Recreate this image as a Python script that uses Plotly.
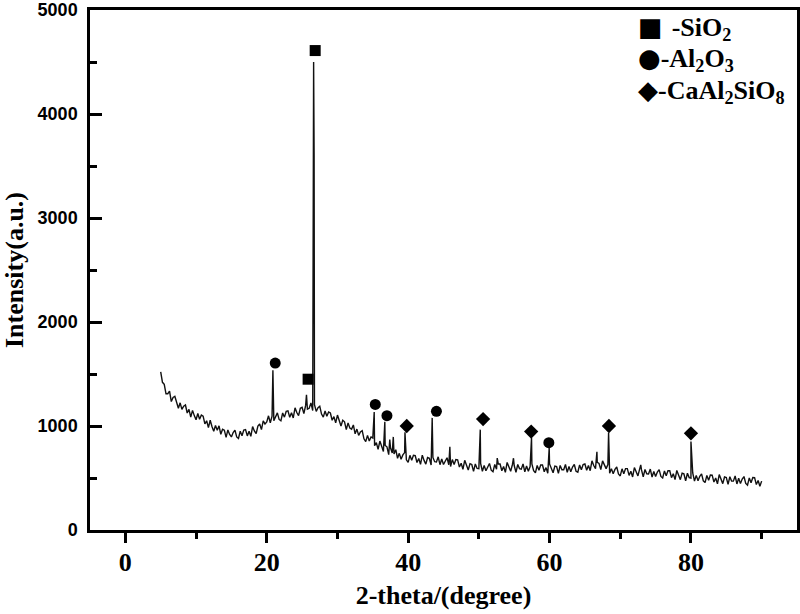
import numpy as np
import plotly.graph_objects as go

# XRD scan, background counts on the 0.25 deg grid from 5.00 to 90.00 deg
SCAN_START = 5.0
SCAN_STEP = 0.25
background = [
    1520, 1420, 1400, 1310,  # 5
    1310, 1335, 1235, 1275,  # 6
    1285, 1220, 1170, 1223,  # 7
    1160, 1190, 1202, 1125,  # 8
    1160, 1085, 1150, 1100,  # 9
    1060, 1120, 1065, 1105,  # 10
    1095, 1020, 1050, 985,   # 11
    1055, 995, 950, 1005,    # 12
    960, 1002, 920, 968,     # 13
    960, 891, 962, 918,      # 14
    895, 937, 960, 895,      # 15
    880, 950, 907, 960,      # 16
    965, 905, 950, 900,      # 17
    995, 953, 926, 1000,     # 18
    1020, 965, 1050, 1020,   # 19
    1040, 1098, 1031, 1094,  # 20
    1050, 1098, 1126, 1063,  # 21
    1050, 1125, 1085, 1140,  # 22
    1145, 1084, 1128, 1077,  # 23
    1175, 1130, 1100, 1170,  # 24
    1180, 1119, 1198, 1162,  # 25
    1170, 1222, 1149, 1204,  # 26
    1140, 1175, 1190, 1115,  # 27
    1085, 1145, 1093, 1135,  # 28
    1125, 1055, 1090, 1030,  # 29
    1105, 1045, 1000, 1055,  # 30
    1040, 965, 1030, 980,    # 31
    970, 1010, 925, 970,     # 32
    910, 943, 955, 877,      # 33
    850, 910, 855, 895,      # 34
    885, 810, 840, 775,      # 35
    855, 797, 755, 813,      # 36
    800, 725, 790, 740,      # 37
    730, 772, 690, 737,      # 38
    680, 722, 744, 675,      # 39
    650, 718, 671, 719,      # 40
    715, 649, 688, 632,      # 41
    720, 669, 633, 697,      # 42
    690, 624, 698, 657,      # 43
    655, 704, 628, 682,      # 44
    630, 672, 695, 627,      # 45
    610, 677, 630, 677,      # 46
    675, 606, 642, 583,      # 47
    670, 616, 577, 638,      # 48
    630, 563, 635, 592,      # 49
    590, 640, 565, 620,      # 50
    570, 615, 640, 575,      # 51
    560, 630, 585, 635,      # 52
    635, 570, 610, 555,      # 53
    650, 600, 565, 630,      # 54
    620, 555, 630, 590,      # 55
    585, 635, 560, 615,      # 56
    565, 610, 635, 570,      # 57
    550, 620, 575, 625,      # 58
    625, 560, 600, 545,      # 59
    635, 585, 550, 615,      # 60
    610, 545, 620, 580,      # 61
    580, 630, 555, 610,      # 62
    560, 605, 630, 565,      # 63
    555, 625, 580, 630,      # 64
    635, 575, 620, 570,      # 65
    665, 620, 590, 650,      # 66
    640, 580, 665, 630,      # 67
    590, 630, 545, 590,      # 68
    540, 583, 606, 539,      # 69
    520, 588, 541, 590,      # 70
    590, 525, 565, 510,      # 71
    600, 553, 520, 587,      # 72
    580, 511, 582, 540,      # 73
    538, 586, 509, 562,      # 74
    515, 558, 581, 515,      # 75
    500, 568, 521, 570,      # 76
    570, 503, 541, 485,      # 77
    573, 521, 484, 547,      # 78
    540, 473, 546, 504,      # 79
    500, 548, 471, 525,      # 80
    474, 517, 540, 473,      # 81
    456, 525, 479, 528,      # 82
    527, 461, 500, 444,      # 83
    533, 482, 446, 510,      # 84
    504, 438, 512, 471,      # 85
    470, 519, 443, 497,      # 86
    446, 490, 514, 448,      # 87
    432, 501, 455, 504,      # 88
    503, 437, 476, 420,      # 89
    470,                     # 90
]

# diffraction peak apexes (2-theta, counts)
peak_theta = [20.87, 25.62, 26.55, 26.63, 26.70, 35.20, 36.70, 37.40, 37.90,
              39.55, 43.40, 45.90, 50.20, 52.60, 54.90, 57.45, 59.95, 66.70,
              68.35, 72.90, 80.00]
peak_counts = [1535, 1300, 3630, 4500, 3600, 1135, 1040, 870, 895,
               940, 1078, 800, 965, 692, 690, 886, 790, 752,
               935, 626, 850]

# phase markers
sio2_theta = [25.85, 26.85]
sio2_y = [1450, 4610]
al2o3_theta = [21.2, 35.35, 37.0, 44.0, 59.9]
al2o3_y = [1605, 1207, 1099, 1141, 840]
caal_theta = [39.8, 50.6, 57.4, 68.4, 80.0]
caal_y = [1000, 1067, 946, 1000, 930]

legend_rows = [
    ("\u25A0 ", "-SiO<sub>2</sub>"),
    ("\u25CF", "-Al<sub>2</sub>O<sub>3</sub>"),
    ("\u25C6", "-CaAl<sub>2</sub>SiO<sub>8</sub>"),
]

scan_theta = SCAN_START + SCAN_STEP * np.arange(len(background))
theta = np.concatenate([scan_theta, peak_theta])
counts = np.concatenate([background, peak_counts])
order = np.argsort(theta, kind="stable")

SERIF = "Liberation Serif"

fig = go.Figure()
fig.add_trace(go.Scatter(
    x=theta[order], y=counts[order], mode="lines",
    line=dict(color="#111111", width=1.4), showlegend=False,
))
for xs, ys, sym in [(sio2_theta, sio2_y, "square"),
                    (al2o3_theta, al2o3_y, "circle"),
                    (caal_theta, caal_y, "diamond")]:
    fig.add_trace(go.Scatter(
        x=xs, y=ys, mode="markers", showlegend=False,
        marker=dict(symbol=sym, size=11, color="black"),
    ))

# legend drawn as text rows, like the original
for i, (glyph, label) in enumerate(legend_rows):
    fig.add_annotation(
        xref="paper", yref="paper", x=0.772, y=0.965 - i * 0.061,
        xanchor="left", yanchor="middle", showarrow=False,
        text=f'<span style="font-family:DejaVu Sans">{glyph}</span>{label}',
        font=dict(family=SERIF, size=26, weight="bold", color="black"),
    )

axis_common = dict(
    showline=True, linewidth=2.5, linecolor="black", mirror=True,
    showgrid=False, zeroline=False, tickwidth=2.5, tickcolor="black",
    automargin=False,
)
fig.update_xaxes(
    range=[-5, 95], tickmode="linear", tick0=0, dtick=20,
    ticks="outside", ticklen=10, ticklabelstandoff=-3,
    minor=dict(tick0=0, dtick=10, ticks="outside", ticklen=6, tickwidth=2.5, tickcolor="black"),
    tickfont=dict(family=SERIF, size=26, weight="bold", color="black"),
    title=dict(text="2-theta/(degree)", standoff=10,
               font=dict(family=SERIF, size=26, weight="bold", color="black")),
    **axis_common,
)
fig.update_yaxes(
    range=[0, 5000], tickmode="linear", tick0=0, dtick=1000,
    ticks="inside", ticklen=12,
    minor=dict(tick0=0, dtick=500, ticks="inside", ticklen=7, tickwidth=2.5, tickcolor="black"),
    tickfont=dict(family="Liberation Sans", size=18, weight="bold", color="black"),
    ticklabelstandoff=6,
    title=dict(text="Intensity(a.u.)", standoff=10,
               font=dict(family=SERIF, size=26, weight="bold", color="black")),
    **axis_common,
)
fig.update_layout(
    width=800, height=614,
    margin=dict(l=90, r=3, t=10, b=84),
    plot_bgcolor="white", paper_bgcolor="white",
    showlegend=False,
)
fig.write_html(
    "out.html",
    config={"displayModeBar": False},
    post_script="document.body.style.margin = '0';",
)
